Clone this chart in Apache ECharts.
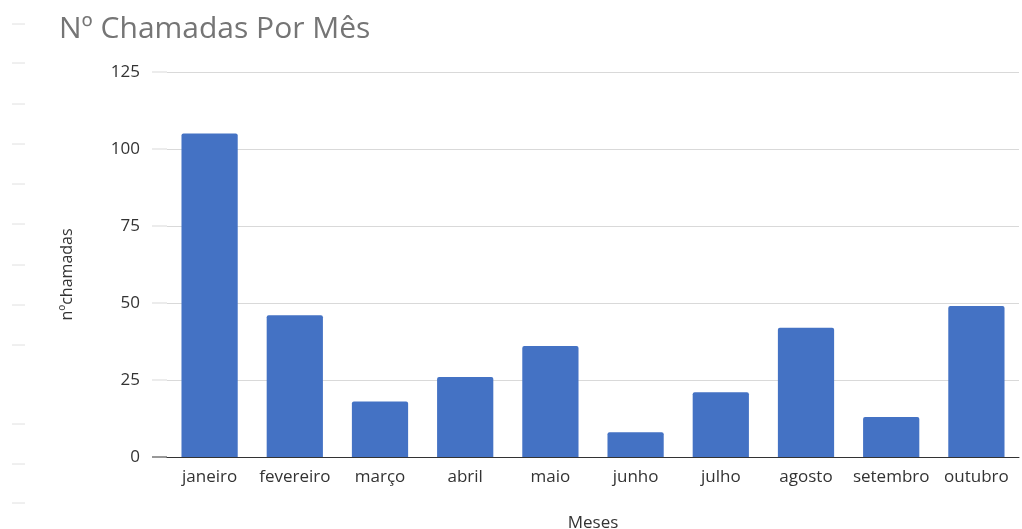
<!DOCTYPE html>
<html>
<head>
<meta charset="utf-8">
<script src="https://cdn.jsdelivr.net/npm/echarts@6/dist/echarts.min.js"></script>
<style>
  html, body { margin: 0; padding: 0; background: #fff; }
  #chart { width: 1022px; height: 529px; }
</style>
</head>
<body>
<div id="chart"></div>
<script>
// dados do gráfico
var meses = ['janeiro', 'fevereiro', 'março', 'abril', 'maio', 'junho', 'julho', 'agosto', 'setembro', 'outubro'];
var chamadas = [105, 46, 18, 26, 36, 8, 21, 42, 13, 49];
var yTicks = [0, 25, 50, 75, 100, 125];

// tracinhos cinza na margem esquerda
var marcas = [24, 63, 104, 144, 184, 224, 265, 305, 345, 424, 464, 503];
var graficos = marcas.map(function (y) {
  return {
    type: 'line',
    shape: { x1: 12, y1: y, x2: 25, y2: y },
    style: { stroke: '#e0e0e0', lineWidth: 1 }
  };
});

var chart = echarts.init(document.getElementById('chart'));

var option = {
  backgroundColor: '#ffffff',
  animation: false,
  title: {
    text: 'Nº Chamadas Por Mês',
    left: 54,
    top: 9,
    textStyle: {
      color: '#757575',
      fontSize: 30,
      fontWeight: 'normal',
      fontFamily: 'Open Sans'
    }
  },
  graphic: graficos,
  grid: {
    left: 167,
    right: 3,
    top: 72,
    bottom: 72,
    outerBoundsMode: 'none'
  },
  xAxis: {
    type: 'category',
    data: meses,
    name: 'Meses',
    nameLocation: 'middle',
    nameGap: 58,
    nameTextStyle: { color: '#333', fontSize: 17, fontFamily: 'Open Sans' },
    axisLine: { lineStyle: { color: '#333', width: 1 } },
    axisTick: { show: false },
    axisLabel: { color: '#333', fontSize: 17, margin: 12, fontFamily: 'Open Sans', interval: 0 }
  },
  yAxis: {
    type: 'value',
    min: yTicks[0],
    max: yTicks[yTicks.length - 1],
    interval: 25,
    name: 'nºchamadas',
    nameLocation: 'middle',
    nameGap: 92,
    nameTextStyle: { color: '#333', fontSize: 16, fontFamily: 'Open Sans', padding: [0, 20, 0, 0] },
    axisLine: { show: false },
    axisTick: { show: false },
    axisLabel: { color: '#333', fontSize: 17, margin: 27, fontFamily: 'Open Sans' },
    splitLine: { lineStyle: { color: '#d9d9d9', width: 1 } }
  },
  series: [{
    type: 'bar',
    data: chamadas,
    barWidth: '66%',
    itemStyle: {
      color: '#4472c4',
      borderRadius: [2, 2, 0, 0]
    }
  }]
};

chart.setOption(option);

// as linhas de grade começam um pouco antes da área das barras
var extras = yTicks.map(function (v) {
  var y = chart.convertToPixel({ yAxisIndex: 0 }, v);
  return {
    type: 'line',
    shape: { x1: 152, y1: y, x2: 167, y2: y },
    style: { stroke: v === 0 ? '#333' : '#d9d9d9', lineWidth: 1 }
  };
});
chart.setOption({ graphic: graficos.concat(extras) });
</script>
</body>
</html>
